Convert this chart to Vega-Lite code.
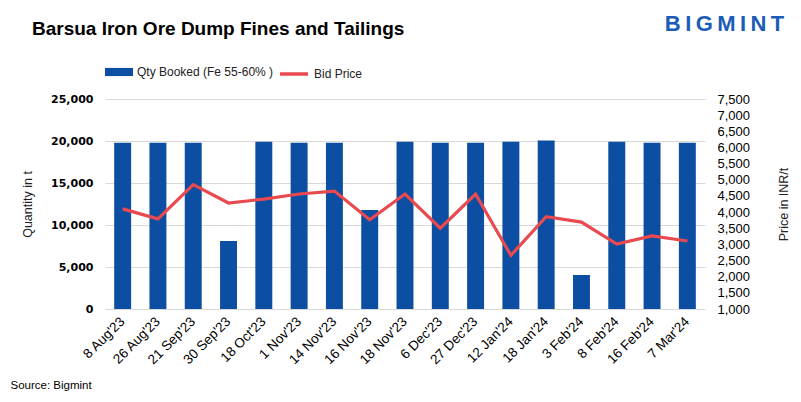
{
  "$schema": "https://vega.github.io/schema/vega-lite/v6.json",
  "width": 600,
  "height": 210,
  "autosize": {"type": "none"},
  "padding": {"left": 105, "top": 99, "right": 96, "bottom": 93},
  "background": "white",
  "config": {
    "view": {"stroke": null},
    "font": "Liberation Sans",
    "axis": {"labelColor": "#000000", "titleColor": "#222222"}
  },
  "title": {
    "text": "Barsua Iron Ore Dump Fines and Tailings",
    "anchor": "start",
    "frame": "group",
    "font": "Liberation Sans",
    "fontSize": 19,
    "fontWeight": "bold",
    "color": "#000000",
    "dx": -73,
    "dy": 27,
    "offset": 0
  },
  "data": {
    "values": [
      {"date": "8 Aug'23", "qty": 19800, "price": 4100},
      {"date": "26 Aug'23", "qty": 19800, "price": 3790},
      {"date": "21 Sep'23", "qty": 19800, "price": 4850},
      {"date": "30 Sep'23", "qty": 8100, "price": 4280},
      {"date": "18 Oct'23", "qty": 19900, "price": 4400},
      {"date": "1 Nov'23", "qty": 19800, "price": 4560},
      {"date": "14 Nov'23", "qty": 19800, "price": 4650},
      {"date": "16 Nov'23", "qty": 11800, "price": 3760},
      {"date": "18 Nov'23", "qty": 19900, "price": 4560},
      {"date": "6 Dec'23", "qty": 19800, "price": 3500},
      {"date": "27 Dec'23", "qty": 19800, "price": 4560},
      {"date": "12 Jan'24", "qty": 19900, "price": 2660},
      {"date": "18 Jan'24", "qty": 20050, "price": 3860},
      {"date": "3 Feb'24", "qty": 4050, "price": 3690},
      {"date": "8 Feb'24", "qty": 19900, "price": 3010},
      {"date": "16 Feb'24", "qty": 19800, "price": 3260},
      {"date": "7 Mar'24", "qty": 19800, "price": 3105}
    ]
  },
  "encoding": {
    "x": {
      "field": "date",
      "type": "nominal",
      "sort": null,
      "scale": {"paddingInner": 0.52, "paddingOuter": 0.26}
    }
  },
  "layer": [
    {
      "mark": {"type": "bar"},
      "encoding": {
        "x": {
          "field": "date",
          "type": "nominal",
          "sort": null,
          "axis": {
            "orient": "bottom",
            "labelAngle": -45,
            "labelAlign": "right",
            "labelBaseline": "middle",
            "labelFontSize": 13.5,
            "labelPadding": 10,
            "domain": false,
            "ticks": false,
            "grid": false,
            "title": "Source: Bigmint",
            "titleX": -95,
            "titleY": 76,
            "titleAlign": "left",
            "titleBaseline": "middle",
            "titleFontSize": 11.5,
            "titleFontWeight": "normal",
            "titleColor": "#000000"
          }
        },
        "y": {
          "field": "qty",
          "type": "quantitative",
          "scale": {"domain": [0, 25000]},
          "axis": {
            "orient": "left",
            "values": [0, 5000, 10000, 15000, 20000, 25000],
            "format": ",d",
            "grid": true,
            "gridColor": "#d9d9d9",
            "domain": false,
            "ticks": false,
            "labelFont": "DejaVu Sans",
            "labelFontWeight": "bold",
            "labelFontSize": 11,
            "labelPadding": 12,
            "title": "Quantity in t",
            "titleFontSize": 12.5,
            "titleFontWeight": "normal",
            "titleX": -78,
            "titleY": 105,
            "titleAngle": -90,
            "titleAlign": "center",
            "titleBaseline": "middle"
          }
        },
        "fill": {
          "datum": "Qty Booked (Fe 55-60% )",
          "type": "nominal",
          "scale": {"range": ["#0B4EA2"]},
          "legend": {
            "orient": "none",
            "legendX": 0,
            "legendY": -41,
            "title": null,
            "symbolType": "M-1,-0.29H1V0.29H-1Z",
            "symbolSize": 784,
            "symbolStrokeWidth": 0,
            "labelFontSize": 12,
            "labelColor": "#222222",
            "labelOffset": 4
          }
        }
      }
    },
    {
      "mark": {"type": "line", "strokeWidth": 3.2},
      "encoding": {
        "x": {
          "field": "date",
          "type": "nominal",
          "sort": null,
          "axis": {
            "orient": "top",
            "labels": false,
            "ticks": false,
            "domain": false,
            "grid": false,
            "title": "B\u2009I\u2009G\u2009M\u2009I\u2009N\u2009T",
            "titleX": 619,
            "titleY": -76,
            "titleAlign": "center",
            "titleBaseline": "middle",
            "titleFontSize": 22,
            "titleFontWeight": "bold",
            "titleColor": "#1A5DB8"
          }
        },
        "y": {
          "field": "price",
          "type": "quantitative",
          "scale": {"domain": [1000, 7500]},
          "axis": {
            "orient": "right",
            "values": [1000, 1500, 2000, 2500, 3000, 3500, 4000, 4500, 5000, 5500, 6000, 6500, 7000, 7500],
            "format": ",d",
            "grid": false,
            "domain": false,
            "ticks": false,
            "labelFontSize": 13,
            "labelPadding": 12,
            "title": "Price in INR/t",
            "titleFontSize": 12.5,
            "titleFontWeight": "normal",
            "titleX": 78,
            "titleY": 105,
            "titleAngle": -90,
            "titleAlign": "center",
            "titleBaseline": "middle"
          }
        },
        "stroke": {
          "datum": "Bid Price",
          "type": "nominal",
          "scale": {"range": ["#E84A4F"]},
          "legend": {
            "orient": "none",
            "legendX": 173,
            "legendY": -41,
            "title": null,
            "symbolType": "stroke",
            "symbolSize": 784,
            "symbolStrokeWidth": 3.5,
            "labelFontSize": 12,
            "labelColor": "#222222",
            "labelOffset": 4
          }
        }
      }
    }
  ],
  "resolve": {
    "scale": {"y": "independent"},
    "axis": {"x": "independent", "y": "independent"}
  }
}
